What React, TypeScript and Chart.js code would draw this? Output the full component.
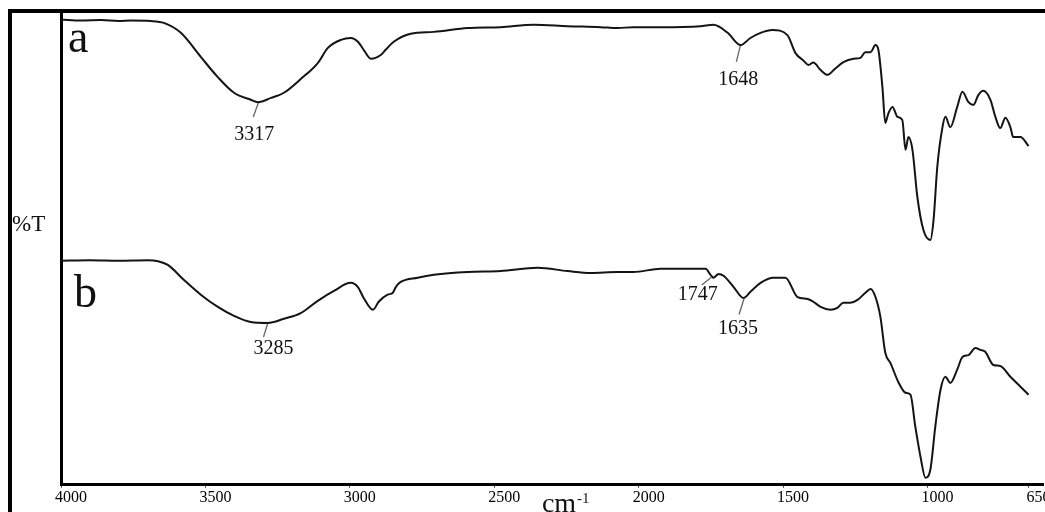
import React, { useEffect, useRef } from 'react';
import { Chart, registerables } from 'chart.js';

Chart.register(...registerables);

// ---- data (wavenumber in cm-1, transmittance in arbitrary %T units) ----
const wavenumbersA = [4000, 3930, 3862, 3800, 3758, 3689, 3644, 3585, 3516, 3457, 3401, 3343, 3318, 3273, 3228, 3170, 3111, 3076, 3031, 2997, 2972, 2952, 2927, 2893, 2876, 2848, 2789, 2709, 2592, 2478, 2363, 2246, 2132, 2073, 2018, 1924, 1786, 1741, 1692, 1647, 1613, 1578, 1537, 1485, 1457, 1429, 1412, 1395, 1370, 1346, 1318, 1291, 1256, 1232, 1215, 1197, 1180, 1170, 1156, 1146, 1135, 1121, 1104, 1087, 1076, 1066, 1052, 1035, 1014, 990, 979, 966, 948, 938, 921, 897, 879, 858, 841, 824, 807, 782, 765, 748, 730, 713, 703, 678, 650];
const transmittanceA = [98.6, 98.4, 98.5, 98.3, 98.4, 98.3, 97.9, 95.8, 90.7, 86.4, 83.1, 81.6, 81.1, 82.0, 83.1, 86.0, 89.4, 92.6, 94.3, 94.7, 93.9, 92.2, 90.3, 91.1, 92.2, 93.9, 95.6, 96.0, 96.8, 97.0, 97.5, 97.2, 97.0, 96.8, 97.0, 97.0, 97.2, 97.5, 95.8, 93.2, 94.7, 95.8, 96.4, 95.3, 91.5, 89.9, 89.0, 89.5, 87.9, 86.9, 88.3, 89.6, 90.3, 90.5, 91.7, 91.7, 93.2, 92.2, 84.3, 76.7, 78.8, 80.1, 78.0, 77.3, 71.0, 73.7, 71.0, 61.0, 54.0, 51.9, 56.1, 67.4, 75.8, 78.0, 75.8, 80.1, 83.3, 81.1, 80.5, 82.6, 83.5, 81.6, 78.0, 75.6, 77.8, 75.8, 73.7, 73.7, 71.8];

const wavenumbersB = [4000, 3900, 3800, 3700, 3664, 3630, 3574, 3516, 3457, 3401, 3343, 3284, 3228, 3170, 3111, 3055, 2997, 2972, 2952, 2920, 2900, 2869, 2851, 2841, 2824, 2765, 2709, 2592, 2478, 2350, 2246, 2166, 2073, 2018, 1924, 1768, 1751, 1741, 1723, 1706, 1671, 1637, 1613, 1578, 1533, 1492, 1450, 1415, 1395, 1370, 1336, 1312, 1291, 1267, 1242, 1215, 1197, 1180, 1163, 1146, 1128, 1101, 1076, 1059, 1042, 1024, 1007, 990, 973, 955, 938, 921, 897, 879, 858, 834, 817, 800, 772, 748, 713, 678, 650];
const transmittanceB = [47.5, 47.6, 47.5, 47.6, 47.4, 46.6, 43.4, 40.3, 37.7, 35.8, 34.5, 34.3, 35.2, 36.4, 39.0, 41.1, 42.8, 41.9, 39.6, 37.1, 38.8, 40.3, 40.7, 41.9, 43.0, 43.9, 44.5, 45.1, 45.3, 46.0, 45.3, 44.9, 45.1, 45.1, 45.8, 45.8, 44.5, 43.9, 44.7, 44.3, 41.9, 39.6, 40.9, 42.8, 43.9, 43.9, 39.8, 39.4, 38.8, 37.7, 37.1, 37.5, 38.6, 38.6, 39.2, 40.7, 41.5, 39.8, 35.6, 28.0, 25.8, 21.8, 19.5, 19.1, 12.3, 5.9, 1.5, 3.2, 12.3, 20.1, 22.9, 21.6, 24.4, 27.1, 27.5, 29.0, 28.6, 28.2, 25.4, 25.2, 22.9, 20.8, 19.1];

const seriesNames = ['a', 'b'];
const xTickValues = [650, 1000, 1500, 2000, 2500, 3000, 3500, 4000];
const peakLabels = ['3317', '1648', '3285', '1747', '1635'];
const peakWavenumbers = [3317, 1648, 3285, 1747, 1635];
const peakSeries = [0, 0, 1, 1, 1];
const yAxisLabel = '%T';
const xAxisUnit = 'cm';
const xAxisUnitExponent = '-1';

// ---- styles ----
const FONT = "'Liberation Serif', 'Times New Roman', serif";
const peakLabelStyle = [
  { tick: [-5, 15], text: [-4, 33] },
  { tick: [-4, 17], text: [-2, 35] },
  { tick: [-4, 14], text: [6, 26] },
  { tick: [-10, 9], text: [-14, 19] },
  { tick: [-5, 17], text: [-6, 31] },
];
const seriesLabelStyle = [
  { dx: 7, dy: 39 },
  { dx: 13, dy: 294 },
];

const seriesX = [wavenumbersA, wavenumbersB];
const seriesY = [transmittanceA, transmittanceB];

function valueAt(series: number, wn: number): number {
  const xs = seriesX[series];
  const ys = seriesY[series];
  for (let i = 0; i < xs.length - 1; i++) {
    const x0 = xs[i], x1 = xs[i + 1];
    if ((wn <= x0 && wn >= x1) || (wn >= x0 && wn <= x1)) {
      const t = x1 === x0 ? 0 : (wn - x0) / (x1 - x0);
      return ys[i] + t * (ys[i + 1] - ys[i]);
    }
  }
  return ys[ys.length - 1];
}

const overlayPlugin = {
  id: 'overlay',
  afterDraw(chart: any) {
    const { ctx, chartArea, scales } = chart;
    const xs = scales.x;
    const ys = scales.y;
    ctx.save();
    // outer frame
    ctx.fillStyle = '#000';
    ctx.fillRect(8, 9, chart.width - 8, 4);
    ctx.fillRect(8, 9, 4, chart.height - 9);

    // series letters
    ctx.fillStyle = '#111';
    ctx.textAlign = 'left';
    ctx.textBaseline = 'alphabetic';
    ctx.font = `46px ${FONT}`;
    seriesNames.forEach((name, i) => {
      const s = seriesLabelStyle[i];
      ctx.fillText(name, chartArea.left + s.dx, chartArea.top + s.dy);
    });

    // peak annotations
    peakLabels.forEach((label, i) => {
      const wn = peakWavenumbers[i];
      const px = xs.getPixelForValue(wn);
      const py = ys.getPixelForValue(valueAt(peakSeries[i], wn));
      const st = peakLabelStyle[i];
      ctx.strokeStyle = '#666';
      ctx.lineWidth = 1.3;
      ctx.beginPath();
      ctx.moveTo(px, py + 1);
      ctx.lineTo(px + st.tick[0], py + st.tick[1]);
      ctx.stroke();
      ctx.fillStyle = '#111';
      ctx.font = `20px ${FONT}`;
      ctx.textAlign = 'center';
      ctx.textBaseline = 'middle';
      ctx.fillText(label, px + st.text[0], py + st.text[1]);
    });

    // y axis label
    ctx.fillStyle = '#111';
    ctx.textAlign = 'left';
    ctx.textBaseline = 'alphabetic';
    ctx.font = `23px ${FONT}`;
    ctx.fillText(yAxisLabel, 12, 231);

    // x axis unit
    const ux = xs.getPixelForValue(2335);
    ctx.font = `28px ${FONT}`;
    ctx.fillText(xAxisUnit, ux, 512);
    const w = ctx.measureText(xAxisUnit).width;
    ctx.font = `15px ${FONT}`;
    ctx.fillText(xAxisUnitExponent, ux + w + 1, 503);
    ctx.restore();
  },
};

export default function App() {
  const canvasRef = useRef<HTMLCanvasElement | null>(null);

  useEffect(() => {
    if (!canvasRef.current) return;
    const makeData = (i: number) => seriesX[i].map((x, k) => ({ x, y: seriesY[i][k] }));
    const chart = new Chart(canvasRef.current, {
      type: 'line',
      data: {
        datasets: seriesNames.map((name, i) => ({
          label: name,
          data: makeData(i),
          borderColor: '#141414',
          borderWidth: 2,
          pointRadius: 0,
          fill: false,
          cubicInterpolationMode: 'monotone' as const,
        })),
      },
      options: {
        animation: false,
        responsive: false,
        devicePixelRatio: 1,
        layout: { padding: { left: 61, top: 13, right: 2, bottom: 5 } },
        plugins: { legend: { display: false }, tooltip: { enabled: false } },
        scales: {
          x: {
            type: 'linear',
            reverse: true,
            min: 600,
            max: 4000,
            afterBuildTicks: (scale: any) => {
              scale.ticks = xTickValues.map((v) => ({ value: v }));
            },
            ticks: {
              autoSkip: false,
              maxRotation: 0,
              labelOffset: 10,
              padding: 0,
              color: '#000',
              font: { family: FONT, size: 16 },
              callback: (v: any) => String(v),
            },
            grid: { display: true, drawOnChartArea: false, drawTicks: true, tickLength: 3, color: '#444', lineWidth: 1 },
            border: { display: true, width: 3, color: '#000' },
          },
          y: {
            min: 0,
            max: 100,
            ticks: { display: false },
            grid: { display: false, drawTicks: false },
            border: { display: true, width: 3, color: '#000' },
          },
        },
      },
      plugins: [overlayPlugin],
    });
    return () => chart.destroy();
  }, []);

  return (
    <div style={{ position: 'absolute', left: 0, top: 0, width: 1045, height: 512, background: '#fff' }}>
      <canvas ref={canvasRef} width={1045} height={512} style={{ display: 'block' }} />
    </div>
  );
}
